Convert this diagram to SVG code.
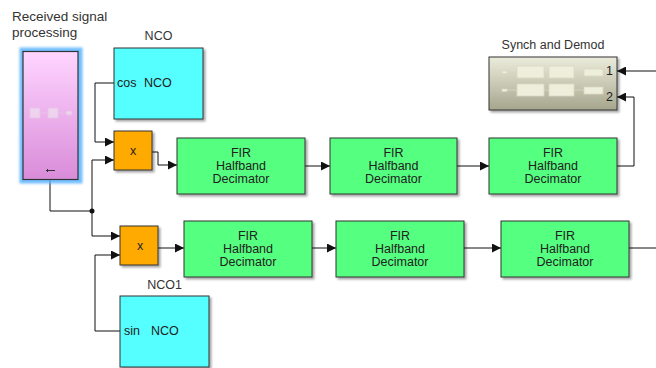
<svg xmlns="http://www.w3.org/2000/svg" width="656" height="368" viewBox="0 0 656 368">
  <defs>
    <style>
      text { font-family: "Liberation Sans", Arial, sans-serif; font-size: 12.5px; fill: #222; }
      .lbl { font-size: 12.5px; fill: #333; }
      .big { font-size: 13.5px; }
      .blk { stroke: #333; stroke-width: 1; }
      .fir { fill: #55ff7f; }
      .nco { fill: #55ffff; }
      .mul { fill: #ffaa00; }
      .wire { fill: none; stroke: #111; stroke-width: 1; }
      .ic { fill: #f0ecf0; fill-opacity: 0.55; stroke: #e6c6e6; stroke-width: 0.8; }
      .ic2 { fill: #eeeedd; stroke: #d8d8c4; stroke-width: 0.8; }
    </style>
    <linearGradient id="pinkGrad" x1="0" y1="0" x2="0" y2="1">
      <stop offset="0" stop-color="#ffd5ff"/>
      <stop offset="1" stop-color="#d98cd9"/>
    </linearGradient>
    <linearGradient id="olive" x1="0" y1="0" x2="0" y2="1">
      <stop offset="0" stop-color="#ececdc"/>
      <stop offset="1" stop-color="#a6a68e"/>
    </linearGradient>
    <filter id="shadow" x="-10%" y="-10%" width="125%" height="125%">
      <feDropShadow dx="2" dy="2" stdDeviation="1.2" flood-color="#000" flood-opacity="0.35"/>
    </filter>
    <filter id="glow" x="-20%" y="-10%" width="140%" height="120%">
      <feGaussianBlur stdDeviation="1"/>
    </filter>
    <marker id="arr" viewBox="0 0 10 10" refX="10" refY="5" markerWidth="9" markerHeight="9" markerUnits="userSpaceOnUse" orient="auto">
      <path d="M0,0 L10,5 L0,10 Z" fill="#111"/>
    </marker>
  </defs>

  <!-- connectors -->
  <g id="connectors">
    <path class="wire" d="M50,179 V211 H92"/>
    <path class="wire" d="M92,211 V160 H114" marker-end="url(#arr)"/>
    <path class="wire" d="M92,211 V236 H120" marker-end="url(#arr)"/>
    <circle cx="92" cy="211" r="2.5" fill="#111"/>
    <path class="wire" d="M114,83 H95 V142 H114" marker-end="url(#arr)"/>
    <path class="wire" d="M152,152 H158 V165 H177" marker-end="url(#arr)"/>
    <path class="wire" d="M305,166 H330" marker-end="url(#arr)"/>
    <path class="wire" d="M457,166 H489" marker-end="url(#arr)"/>
    <path class="wire" d="M617,166 H634 V97 H617" marker-end="url(#arr)"/>
    <path class="wire" d="M656,71 H617" marker-end="url(#arr)"/>
    <path class="wire" d="M120,331 H95 V255 H120" marker-end="url(#arr)"/>
    <path class="wire" d="M158,248 H184" marker-end="url(#arr)"/>
    <path class="wire" d="M312,248 H336" marker-end="url(#arr)"/>
    <path class="wire" d="M464,248 H501" marker-end="url(#arr)"/>
    <path class="wire" d="M629,248 H656"/>
  </g>

  <!-- subsystem: received signal processing -->
  <g id="rx">
    <text class="lbl big" x="12" y="21">Received signal</text>
    <text class="lbl big" x="12" y="37">processing</text>
    <rect x="19.5" y="47.5" width="63" height="136" fill="#5ab4ff" opacity="0.85" filter="url(#glow)"/>
    <rect x="23" y="51.5" width="55" height="128" fill="url(#pinkGrad)" stroke="#333" stroke-width="1.2"/>
    <rect class="ic" x="30" y="108" width="10" height="10"/>
    <line x1="40" y1="113" x2="48" y2="113" stroke="#e6c6e6" stroke-width="0.8"/>
    <rect class="ic" x="48" y="108" width="10" height="10"/>
    <line x1="58" y1="113" x2="66" y2="113" stroke="#e6c6e6" stroke-width="0.8"/>
    <rect class="ic" x="66" y="111" width="6" height="4" rx="2"/>
    <path d="M46,170.5 H55 M47.5,169 V172" stroke="#333" stroke-width="1" fill="none"/>
  </g>

  <!-- NCO (cos) -->
  <g id="nco">
    <text class="lbl" x="158.5" y="40" text-anchor="middle">NCO</text>
    <rect class="blk nco" x="114" y="48" width="89" height="71" filter="url(#shadow)"/>
    <text x="117" y="87">cos</text>
    <text x="144" y="87">NCO</text>
  </g>

  <!-- multiplier, I branch -->
  <g id="mult1">
    <rect class="blk mul" x="114" y="131" width="38" height="39" filter="url(#shadow)"/>
    <text x="133" y="155" text-anchor="middle" font-size="11">x</text>
  </g>

  <!-- I branch decimators -->
  <g id="fir1">
    <rect class="blk fir" x="177" y="138" width="128" height="56" filter="url(#shadow)"/>
    <text x="241" y="157" text-anchor="middle">FIR</text>
    <text x="241" y="170" text-anchor="middle">Halfband</text>
    <text x="241" y="183" text-anchor="middle">Decimator</text>
  </g>
  <g id="fir2">
    <rect class="blk fir" x="330" y="138" width="127" height="56" filter="url(#shadow)"/>
    <text x="393.5" y="157" text-anchor="middle">FIR</text>
    <text x="393.5" y="170" text-anchor="middle">Halfband</text>
    <text x="393.5" y="183" text-anchor="middle">Decimator</text>
  </g>
  <g id="fir3">
    <rect class="blk fir" x="489" y="138" width="128" height="56" filter="url(#shadow)"/>
    <text x="553" y="157" text-anchor="middle">FIR</text>
    <text x="553" y="170" text-anchor="middle">Halfband</text>
    <text x="553" y="183" text-anchor="middle">Decimator</text>
  </g>

  <!-- synchronisation and demodulation subsystem -->
  <g id="synch">
    <text class="lbl" x="553" y="49" text-anchor="middle">Synch and Demod</text>
    <rect class="blk" x="489" y="57" width="128" height="53" fill="url(#olive)" filter="url(#shadow)"/>
    <g stroke="#d8d8c4" stroke-width="0.8">
      <line x1="507" y1="72" x2="517" y2="72"/>
      <line x1="544" y1="72" x2="549" y2="72"/>
      <line x1="574" y1="72" x2="584" y2="72"/>
      <line x1="507" y1="90" x2="517" y2="90"/>
      <line x1="544" y1="90" x2="549" y2="90"/>
      <line x1="574" y1="90" x2="584" y2="90"/>
    </g>
    <rect class="ic2" x="502" y="71" width="5" height="2.5"/>
    <rect class="ic2" x="517" y="66" width="27" height="12"/>
    <rect class="ic2" x="549" y="66" width="25" height="12"/>
    <rect class="ic2" x="584" y="69" width="19" height="7"/>
    <rect class="ic2" x="502" y="89" width="5" height="2.5"/>
    <rect class="ic2" x="517" y="84" width="27" height="12"/>
    <rect class="ic2" x="549" y="84" width="25" height="12"/>
    <rect class="ic2" x="584" y="87" width="19" height="7"/>
    <text x="606" y="75" font-size="11.5">1</text>
    <text x="606" y="101" font-size="11.5">2</text>
  </g>

  <!-- multiplier, Q branch -->
  <g id="mult2">
    <rect class="blk mul" x="120" y="226" width="38" height="39" filter="url(#shadow)"/>
    <text x="140" y="250" text-anchor="middle" font-size="11">x</text>
  </g>

  <!-- Q branch decimators -->
  <g id="fir4">
    <rect class="blk fir" x="184" y="221" width="128" height="56" filter="url(#shadow)"/>
    <text x="248" y="240" text-anchor="middle">FIR</text>
    <text x="248" y="253" text-anchor="middle">Halfband</text>
    <text x="248" y="266" text-anchor="middle">Decimator</text>
  </g>
  <g id="fir5">
    <rect class="blk fir" x="336" y="221" width="128" height="56" filter="url(#shadow)"/>
    <text x="400" y="240" text-anchor="middle">FIR</text>
    <text x="400" y="253" text-anchor="middle">Halfband</text>
    <text x="400" y="266" text-anchor="middle">Decimator</text>
  </g>
  <g id="fir6">
    <rect class="blk fir" x="501" y="221" width="128" height="56" filter="url(#shadow)"/>
    <text x="565" y="240" text-anchor="middle">FIR</text>
    <text x="565" y="253" text-anchor="middle">Halfband</text>
    <text x="565" y="266" text-anchor="middle">Decimator</text>
  </g>

  <!-- NCO1 (sin) -->
  <g id="nco1">
    <text class="lbl" x="164.5" y="289" text-anchor="middle">NCO1</text>
    <rect class="blk nco" x="120" y="296" width="89" height="71" filter="url(#shadow)"/>
    <text x="124" y="335">sin</text>
    <text x="151" y="335">NCO</text>
  </g>
</svg>
